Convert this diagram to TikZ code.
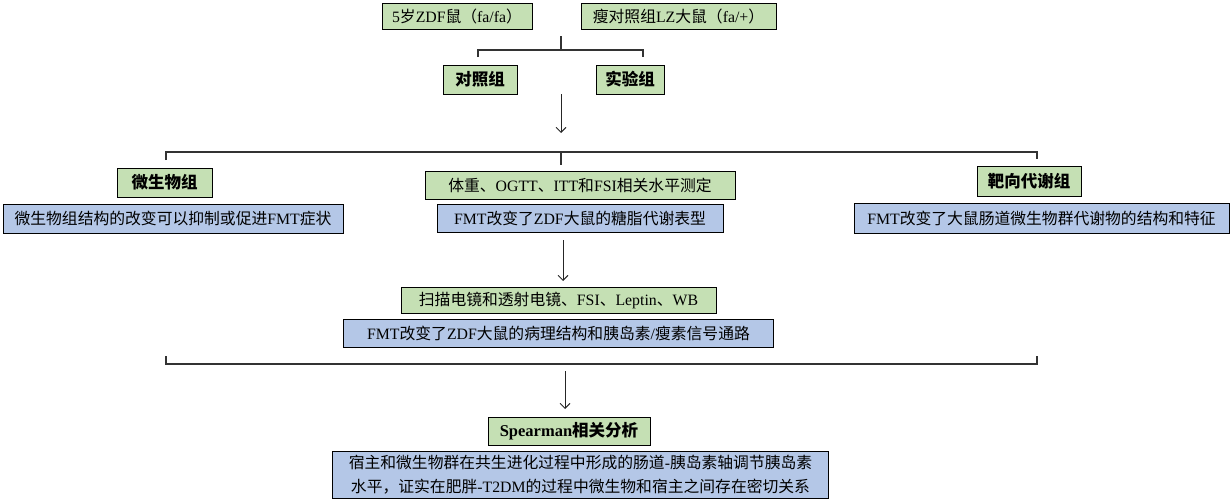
\documentclass[tikz,border=0pt]{standalone}
\usepackage{fontspec}
\setmainfont{Liberation Serif}
\newfontfamily\cjk{Noto Sans CJK SC}
\usetikzlibrary{arrows.meta, positioning}

% switch to the CJK family for Chinese characters, back to the serif for Latin
\XeTeXinterchartokenstate=1
\newXeTeXintercharclass\cjkclass
\makeatletter
\count@="4E00
\loop\XeTeXcharclass\count@=\cjkclass\advance\count@ by 1 \ifnum\count@<"A000 \repeat
\count@="3000
\loop\XeTeXcharclass\count@=\cjkclass\advance\count@ by 1 \ifnum\count@<"3040 \repeat
\count@="FF00
\loop\XeTeXcharclass\count@=\cjkclass\advance\count@ by 1 \ifnum\count@<"FFF0 \repeat
\makeatother
\XeTeXinterchartoks 0 \cjkclass = {\cjk}
\XeTeXinterchartoks 4095 \cjkclass = {\cjk}
\XeTeXinterchartoks \cjkclass 0 = {\rmfamily}
\XeTeXinterchartoks \cjkclass 4095 = {\rmfamily}

\definecolor{boxgreen}{HTML}{C5E0B4}
\definecolor{boxblue}{HTML}{B4C7E7}

\begin{document}
\begin{tikzpicture}[
    x=1pt, y=-1pt,
    base/.style={rectangle, draw=black, line width=0.9pt, inner sep=2pt, align=center, font=\fontsize{15.8}{24}\selectfont},
    greenbox/.style={base, fill=boxgreen},
    bluebox/.style={base, fill=boxblue},
    headbox/.style={greenbox, font=\fontsize{16.5}{24}\selectfont\bfseries},
    arrow/.style={-{Straight Barb[length=5pt, width=10pt]}, line width=0.9pt, color=black!85},
    bracket/.style={draw=black!80, line width=1.3pt}
]
\useasboundingbox (0,0) rectangle (1231,501);

% rats and groups
\node [greenbox, minimum width=150pt, minimum height=26pt] (zdf) at (457,16) {5岁ZDF鼠（fa/fa）};
\node [greenbox, minimum width=195pt, minimum height=26pt] (lean) at (678.5,16) {瘦对照组LZ大鼠（fa/+）};
\node [headbox, minimum width=74pt, minimum height=29pt] (ctrl) at (480,79.5) {对照组};
\node [headbox, minimum width=68pt, minimum height=29pt] (expt) at (630,79.5) {实验组};

% three lines of work
\node [headbox, minimum width=95pt, minimum height=29pt] (micro) at (164.5,182.5) {微生物组};
\node [bluebox, minimum width=340pt, minimum height=29pt] (microres) at (173,218.5) {微生物组结构的改变可以抑制或促进FMT症状};
\node [greenbox, minimum width=310pt, minimum height=28pt] (pheno) at (580,185) {体重、OGTT、ITT和FSI相关水平测定};
\node [bluebox, minimum width=286pt, minimum height=28pt, below=5pt of pheno] (phenores) {FMT改变了ZDF大鼠的糖脂代谢表型};
\node [headbox, minimum width=104pt, minimum height=30pt] (target) at (1029,181) {靶向代谢组};
\node [bluebox, minimum width=375pt, minimum height=30pt] (targetres) at (1041.5,218) {FMT改变了大鼠肠道微生物群代谢物的结构和特征};

% pathology
\node [greenbox, minimum width=315pt, minimum height=26pt] (sem) at (558.5,300) {扫描电镜和透射电镜、FSI、Leptin、WB};
\node [bluebox, minimum width=430pt, minimum height=28pt, below=6pt of sem] (semres) {FMT改变了ZDF大鼠的病理结构和胰岛素/瘦素信号通路};

% correlation
\node [headbox, minimum width=162pt, minimum height=28pt] (spear) at (569,431) {Spearman相关分析};
\node [bluebox, minimum width=496pt, minimum height=47pt] (concl) at (580.5,475) {宿主和微生物群在共生进化过程中形成的肠道-胰岛素轴调节胰岛素\\水平，证实在肥胖-T2DM的过程中微生物和宿主之间存在密切关系};

% brackets and arrows
\coordinate (pairtop) at (561,36);
\coordinate (pairjoin) at (561,50);
\coordinate (ctrltick) at (478,57);
\coordinate (expttick) at (643,57);
\draw [bracket] (pairtop) -- (pairjoin);
\draw [bracket] (ctrltick) -- (ctrltick |- pairjoin) -- (expttick |- pairjoin) -- (expttick);

\coordinate (go1) at (561,94);
\coordinate (to1) at (561,133);
\draw [arrow] (go1) -- (to1);

\coordinate (splitjoin) at (561,152);
\coordinate (splitstub) at (561,165);
\coordinate (splitleft) at (166,160);
\coordinate (splitright) at (1037,159);
\draw [bracket] (splitleft) -- (splitleft |- splitjoin) -- (splitright |- splitjoin) -- (splitright);
\draw [bracket] (splitjoin) -- (splitstub);

\coordinate (go2) at (563,240);
\coordinate (to2) at (563,281);
\draw [arrow] (go2) -- (to2);

\coordinate (mergeleft) at (166,356);
\coordinate (mergeright) at (1037,356);
\coordinate (mergebase) at (166,364);
\draw [bracket] (mergeleft) -- (mergebase) -- (mergeright |- mergebase) -- (mergeright);

\coordinate (go3) at (565,371);
\coordinate (to3) at (565,409);
\draw [arrow] (go3) -- (to3);
\end{tikzpicture}
\end{document}
